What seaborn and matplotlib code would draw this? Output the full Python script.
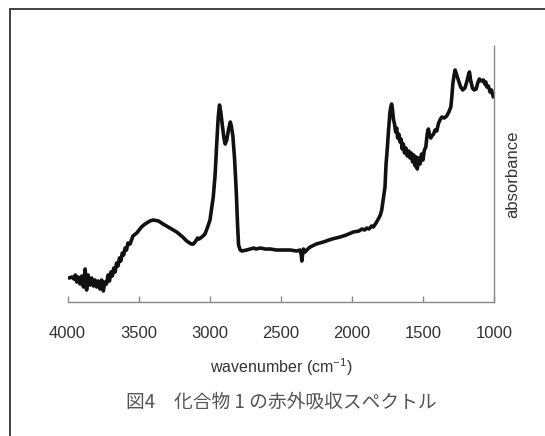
"""IR absorption spectrum of compound 1 (figure 4)."""

import matplotlib

matplotlib.use("Agg")

import matplotlib.pyplot as plt
import pandas as pd
import seaborn as sns
from matplotlib.patches import Rectangle

# wavenumber (cm-1) and absorbance (arbitrary units)
wavenumber = [
    3990, 3970, 3955, 3945, 3935, 3925, 3912, 3900, 3888, 3876, 3866, 3855,
    3842, 3830, 3818, 3806, 3795, 3783, 3772, 3760, 3748, 3738, 3726, 3715,
    3705, 3695, 3685, 3675, 3665, 3655, 3645, 3635, 3625, 3615, 3605, 3595,
    3585, 3575, 3560, 3540, 3513, 3480, 3455, 3420, 3398, 3360, 3328, 3280,
    3232, 3190, 3162, 3130, 3115, 3098, 3085, 3075, 3055, 3033, 3012, 2998,
    2985, 2975, 2962, 2950, 2940, 2931, 2922, 2914, 2900, 2891, 2880, 2868,
    2855, 2848, 2837, 2825, 2813, 2804, 2797, 2785, 2773, 2740, 2714, 2690,
    2675, 2644, 2610, 2574, 2530, 2482, 2434, 2388, 2364, 2356, 2352, 2346,
    2340, 2329, 2310, 2294, 2250, 2201, 2140, 2083, 2040, 1990, 1950, 1930,
    1910, 1896, 1880, 1861, 1849, 1830, 1814, 1800, 1790, 1779, 1767, 1760,
    1750, 1743, 1732, 1725, 1720, 1714, 1708, 1700, 1692, 1685, 1678, 1670,
    1661, 1654, 1646, 1638, 1630, 1620, 1610, 1600, 1591, 1582, 1573, 1565,
    1555, 1547, 1540, 1530, 1520, 1510, 1500, 1490, 1480, 1470, 1462, 1455,
    1445, 1438, 1425, 1415, 1403, 1390, 1380, 1368, 1350, 1333, 1318, 1304,
    1297, 1290, 1282, 1274, 1265, 1251, 1235, 1220, 1205, 1192, 1180, 1173,
    1165, 1152, 1140, 1126, 1115, 1103, 1090, 1075, 1065, 1058, 1051, 1040,
    1028, 1018, 1005,
]
absorbance = [
    0.24, 0.25, 0.23, 0.27, 0.20, 0.25, 0.18, 0.26, 0.15, 0.33, 0.12, 0.27,
    0.17, 0.24, 0.16, 0.22, 0.15, 0.21, 0.13, 0.22, 0.11, 0.20, 0.18, 0.27,
    0.21, 0.30, 0.26, 0.34, 0.30, 0.39, 0.36, 0.44, 0.41, 0.49, 0.47, 0.54,
    0.52, 0.59, 0.58, 0.66, 0.69, 0.75, 0.78, 0.81, 0.82, 0.81, 0.78, 0.74,
    0.70, 0.65, 0.61, 0.58, 0.58, 0.61, 0.64, 0.63, 0.65, 0.68, 0.76, 0.82,
    0.95, 1.05, 1.27, 1.60, 1.85, 1.97, 1.90, 1.80, 1.64, 1.58, 1.62, 1.72,
    1.80, 1.76, 1.66, 1.43, 1.10, 0.77, 0.57, 0.52, 0.51, 0.52, 0.53, 0.54,
    0.53, 0.54, 0.53, 0.53, 0.52, 0.52, 0.52, 0.51, 0.52, 0.47, 0.41, 0.48,
    0.53, 0.50, 0.53, 0.55, 0.58, 0.60, 0.63, 0.65, 0.67, 0.70, 0.71, 0.73,
    0.72, 0.74, 0.73, 0.76, 0.75, 0.79, 0.83, 0.87, 0.92, 1.03, 1.15, 1.37,
    1.55, 1.70, 1.90, 1.96, 1.98, 1.92, 1.83, 1.78, 1.70, 1.74, 1.64, 1.68,
    1.60, 1.63, 1.53, 1.58, 1.49, 1.54, 1.46, 1.51, 1.44, 1.49, 1.40, 1.47,
    1.36, 1.45, 1.33, 1.44, 1.38, 1.48, 1.42, 1.52, 1.55, 1.68, 1.73, 1.68,
    1.64, 1.66, 1.68, 1.72, 1.71, 1.79, 1.82, 1.85, 1.84, 1.86, 1.90, 1.95,
    2.05, 2.18, 2.26, 2.32, 2.28, 2.22, 2.15, 2.12, 2.14, 2.20, 2.27, 2.30,
    2.22, 2.14, 2.12, 2.13, 2.19, 2.23, 2.21, 2.22, 2.18, 2.20, 2.15, 2.16,
    2.10, 2.12, 2.05,
]
x_ticks = [4000, 3500, 3000, 2500, 2000, 1500, 1000]
caption = "図4　化合物 1 の赤外吸収スペクトル"

sns.set_style("white")
plt.rcParams["font.family"] = ["Liberation Sans", "DejaVu Sans"]
plt.rcParams["mathtext.fontset"] = "custom"
plt.rcParams["mathtext.rm"] = "Liberation Sans"
plt.rcParams["mathtext.default"] = "regular"

spectrum = pd.DataFrame({"wavenumber": wavenumber, "absorbance": absorbance})

fig = plt.figure(figsize=(5.45, 4.36), dpi=100)
ax = fig.add_axes([0.1239, 0.3073, 0.7826, 0.5872])

sns.lineplot(
    data=spectrum,
    x="wavenumber",
    y="absorbance",
    sort=False,
    color="#111111",
    linewidth=2.6,
    ax=ax,
)

ax.set_xlim(4000, 1000)
ax.set_ylim(0, 2.56)
ax.set_xticks(x_ticks)
ax.set_xticklabels([str(t) for t in x_ticks])
ax.set_yticks([])
ax.tick_params(
    axis="x", direction="in", length=4, width=1, color="#888888",
    pad=17, labelsize=12, labelcolor="#333333", bottom=True,
)

for side in ["left", "top"]:
    ax.spines[side].set_visible(False)
for side in ["bottom", "right"]:
    ax.spines[side].set_color("#888888")
    ax.spines[side].set_linewidth(1)

ax.set_xlabel("wavenumber (cm$^{-1}$)", fontsize=11.5, color="#333333", labelpad=11)
ax.yaxis.set_label_position("right")
ax.set_ylabel("absorbance", fontsize=12, color="#333333", labelpad=8)

fig.text(
    0.5155, 0.078, caption, ha="center", va="center", fontsize=13.5,
    color="#555555", family=["Noto Sans CJK JP", "DejaVu Sans"],
)

# outer frame: only top and left edges fall inside the picture
fig.add_artist(
    Rectangle(
        (10 / 545, -0.1), 1.2, 1.079, transform=fig.transFigure,
        fill=False, edgecolor="#333333", linewidth=1.3,
    )
)

fig.savefig("out.png", dpi=100)
